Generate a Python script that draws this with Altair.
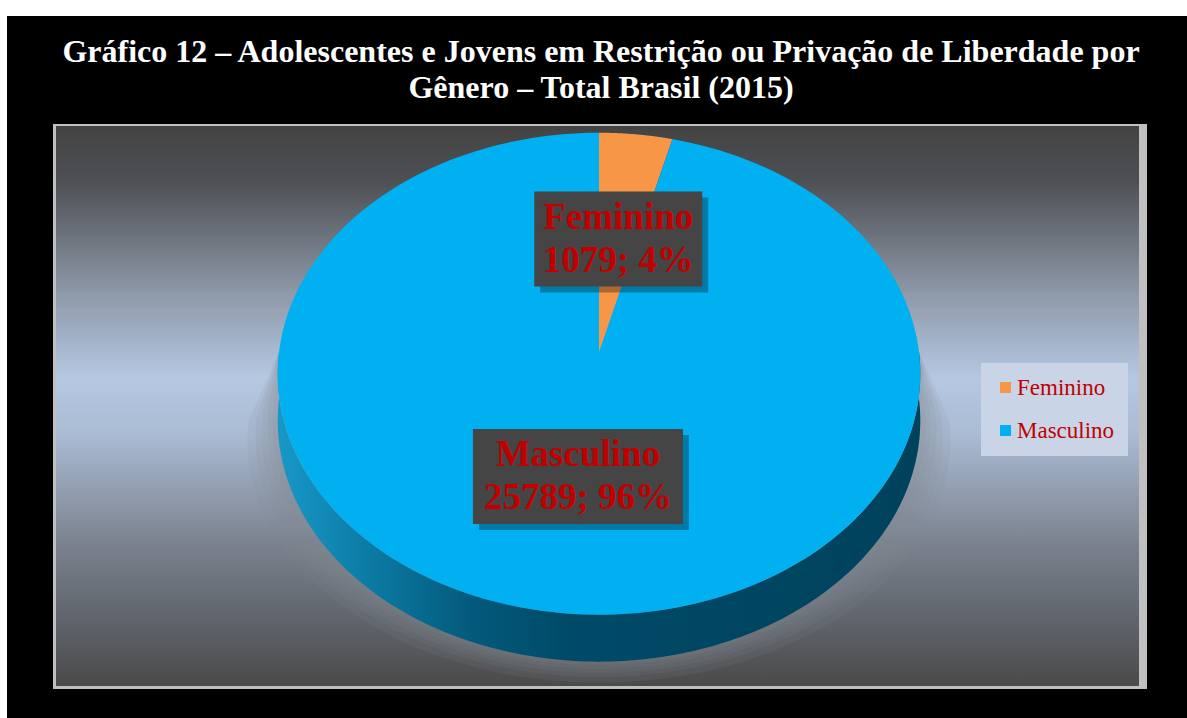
import altair as alt
import pandas as pd

# ---- data -------------------------------------------------------------
CATEGORIES = ["Feminino", "Masculino"]
VALUES = [1079, 25789]
COLORS = ["#f79646", "#00b0f0"]
TITLE_LINES = [
    "Gráfico 12 – Adolescentes e Jovens em Restrição ou Privação de Liberdade por",
    "Gênero – Total Brasil (2015)",
]

# ---- layout / geometry (pixels) --------------------------------------
W, H = 1187, 718
CX, CY = 599, 352        # pie apex
RX, RY = 320, 239        # pie radii
K = 0.09                 # perspective factor
DEPTH = 47               # 3D thickness
N = 180                  # points per slice outline
LF = 0.5                 # label radius fraction
HALO_STEPS = [5, 10, 16, 22, 30]

df = pd.DataFrame({"cat": CATEGORIES, "value": VALUES, "order": list(range(len(CATEGORIES)))})
one = pd.DataFrame({"_": [0]})

X = alt.X("px:Q", scale=alt.Scale(domain=[0, W], range=[0, W]), axis=None)
Y = alt.Y("py:Q", scale=alt.Scale(domain=[0, H], range=[0, H]), axis=None)

# ---- background --------------------------------------------------------
black = alt.Chart(one).mark_rect(color="#000000").encode(
    x=alt.value(7), x2=alt.value(W), y=alt.value(16), y2=alt.value(H))
frame = alt.Chart(one).mark_rect(color="#c0c0c0").encode(
    x=alt.value(53), x2=alt.value(1147), y=alt.value(124), y2=alt.value(689))
bg_grad = alt.Gradient(
    gradient="linear", x1=0, x2=0, y1=0, y2=1,
    stops=[
        alt.GradientStop(offset=0.0, color="#434343"),
        alt.GradientStop(offset=0.1, color="#4e5054"),
        alt.GradientStop(offset=0.3, color="#8e99a9"),
        alt.GradientStop(offset=0.45, color="#b5c8e2"),
        alt.GradientStop(offset=0.55, color="#aabbd3"),
        alt.GradientStop(offset=0.75, color="#7a818d"),
        alt.GradientStop(offset=0.87, color="#62676f"),
        alt.GradientStop(offset=1.0, color="#4a4a4a"),
    ])
plot_bg = alt.Chart(one).mark_rect(color=bg_grad).encode(
    x=alt.value(56), x2=alt.value(1139), y=alt.value(126), y2=alt.value(686))


def lower_band(extra, drop, color, opacity=1.0):
    """Closed outline: lower half of the pie rim (expanded by `extra`, dropped by `drop`)
    and back along the unshifted lower rim."""
    return alt.Chart(alt.sequence(0, 2 * N + 2, as_="k")).transform_calculate(
        t=f"datum.k <= {N} ? PI/2 + PI*datum.k/{N} : 3*PI/2 - PI*(datum.k-{N}-1)/{N}",
        s=f"1 / (1 + {K} * cos(datum.t))",
        px=f"{CX} + ({RX} + (datum.k <= {N} ? {extra} : 0)) * sin(datum.t) * datum.s",
        py=f"{CY} - {RY} * cos(datum.t) * datum.s + (datum.k <= {N} ? {drop} : 0)",
    ).mark_line(interpolate="linear-closed", filled=True, color=color,
                opacity=opacity, strokeWidth=0).encode(x=X, y=Y, order="k:Q")


# soft halo beneath the pie
halos = [lower_band(e, DEPTH + 0.7 * e, "#808894", 0.13) for e in HALO_STEPS[::-1]]

# ---- pie ---------------------------------------------------------------
base = alt.Chart(df).transform_joinaggregate(
    total="sum(value)"
).transform_window(
    cum="sum(value)", sort=[alt.SortField("order")], frame=[None, 0]
).transform_calculate(
    a0="(datum.cum - datum.value) / datum.total * 2 * PI",
    a1="datum.cum / datum.total * 2 * PI",
)

side_grad = alt.Gradient(
    gradient="linear", x1=0, x2=1, y1=0, y2=0,
    stops=[
        alt.GradientStop(offset=0.0, color="#1898c8"),
        alt.GradientStop(offset=0.15, color="#0b79a2"),
        alt.GradientStop(offset=0.3, color="#035a7c"),
        alt.GradientStop(offset=0.45, color="#004a68"),
        alt.GradientStop(offset=1.0, color="#00425c"),
    ])
side = lower_band(0, DEPTH, side_grad)

slices = base.transform_calculate(
    pts=f"sequence(0, {N + 2})"
).transform_flatten(
    ["pts"], as_=["k"]
).transform_calculate(
    t=f"datum.a0 + (datum.a1 - datum.a0) * min(datum.k, {N}) / {N}",
    s=f"1 / (1 + {K} * cos(datum.t))",
    px=f"datum.k > {N} ? {CX} : {CX} + {RX} * sin(datum.t) * datum.s",
    py=f"datum.k > {N} ? {CY} : {CY} - {RY} * cos(datum.t) * datum.s",
).mark_line(interpolate="linear-closed", filled=True, strokeWidth=0).encode(
    x=X, y=Y, order="k:Q", detail="cat:N",
    color=alt.Color(
        "cat:N",
        scale=alt.Scale(domain=CATEGORIES, range=COLORS),
        legend=alt.Legend(
            orient="none", legendX=981, legendY=363, title=None,
            fillColor="#c9d5e6", padding=13, symbolType="square", symbolSize=121,
            symbolStrokeWidth=0, labelFont="Liberation Serif", labelFontSize=23,
            labelColor="#c00000", rowPadding=19, labelOffset=0, symbolOpacity=1,
        ),
    ),
)

# ---- data labels -------------------------------------------------------
lab = base.transform_calculate(
    mid="(datum.a0 + datum.a1) / 2",
    sl=f"1 / (1 + {K * LF} * cos(datum.mid))",
    px=f"{CX} + {LF * RX} * sin(datum.mid) * datum.sl",
    py=f"{CY} - {LF * RY} * cos(datum.mid) * datum.sl",
    pct="round(datum.value / datum.total * 100)",
    line2="datum.value + '; ' + datum.pct + '%'",
    label="datum.cat + '\\n' + datum.line2",
    bw="max(length(datum.cat), length(datum.line2)) * 21",
    bx0="datum.px - datum.bw / 2",
    bx1="datum.px + datum.bw / 2",
    by0="datum.py - 47",
    by1="datum.py + 48",
    sx0="datum.bx0 + 6", sx1="datum.bx1 + 6",
    sy0="datum.by0 + 6", sy1="datum.by1 + 6",
)

lab_shadow = lab.mark_rect(color="#000000", opacity=0.3).encode(
    x=alt.X("sx0:Q", scale=alt.Scale(domain=[0, W], range=[0, W]), axis=None),
    x2="sx1:Q",
    y=alt.Y("sy0:Q", scale=alt.Scale(domain=[0, H], range=[0, H]), axis=None),
    y2="sy1:Q",
)
lab_box = lab.mark_rect(color="#454545").encode(
    x=alt.X("bx0:Q", scale=alt.Scale(domain=[0, W], range=[0, W]), axis=None),
    x2="bx1:Q",
    y=alt.Y("by0:Q", scale=alt.Scale(domain=[0, H], range=[0, H]), axis=None),
    y2="by1:Q",
)
lab_text = lab.mark_text(
    font="Liberation Serif", fontWeight="bold", fontSize=37, color="#c00000",
    lineBreak="\n", lineHeight=43, align="center", baseline="middle", dy=-21,
).encode(x=X, y=Y, text="label:N")

# ---- title -------------------------------------------------------------
title = alt.Chart(pd.DataFrame({"t": ["\n".join(TITLE_LINES)]})).mark_text(
    font="Liberation Serif", fontWeight="bold", fontSize=32, color="#ffffff",
    lineBreak="\n", lineHeight=36, align="center", baseline="middle",
).encode(x=alt.value(601), y=alt.value(52), text="t:N")

chart = alt.layer(
    black, frame, plot_bg, *halos, side, slices, lab_shadow, lab_box, lab_text, title
).properties(
    width=W, height=H, padding=0, autosize="none", background="#ffffff"
).configure_view(strokeWidth=0)

chart.save("out.html", embed_options={"renderer": "svg", "actions": False})
